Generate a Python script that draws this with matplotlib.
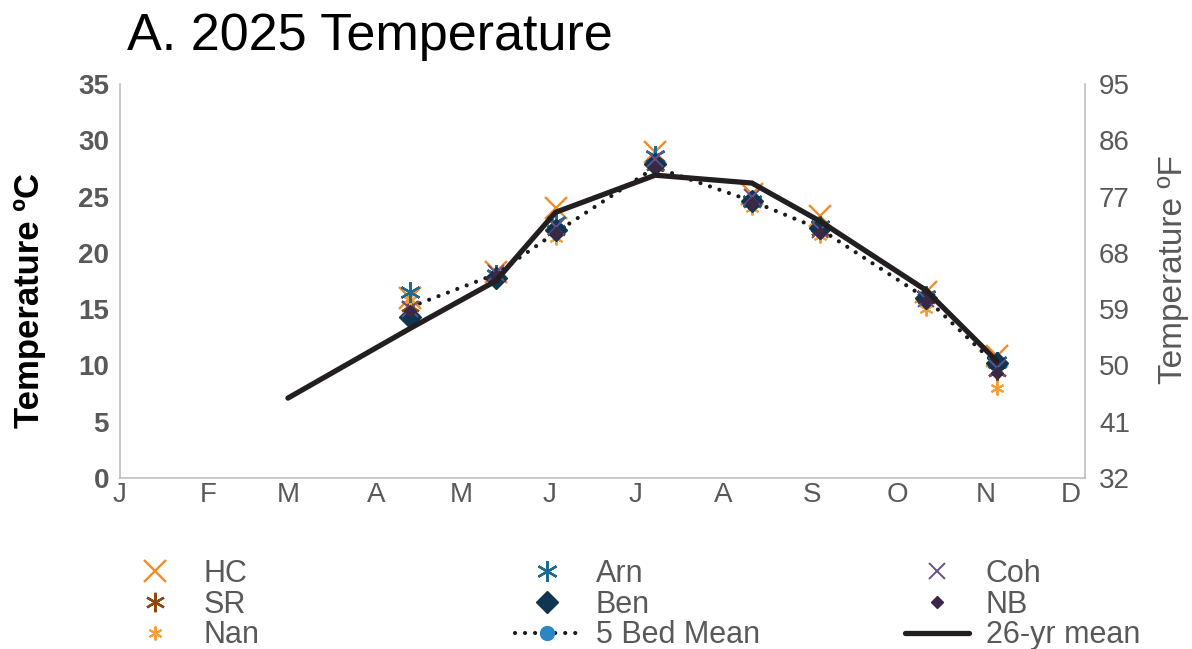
import matplotlib
matplotlib.use("Agg")
import matplotlib.pyplot as plt
from matplotlib.lines import Line2D

plt.rcParams['font.family'] = ['Liberation Sans', 'DejaVu Sans']

# Day of year (Jan 1 = 0)
sample_days = [102, 132, 153, 188, 222, 246, 283, 308]
HC  = [16.0, 18.3, 24.0, 29.0, 25.2, 23.3, 16.5, 10.8]
SR  = [15.3, 18.0, 22.0, 27.8, 24.5, 22.0, 16.0, 9.5]
Nan = [15.8, 18.0, 21.3, 28.0, 24.0, 21.5, 15.0, 8.0]
Arn = [16.5, 18.0, 22.7, 28.6, 24.6, 22.4, 16.2, 10.3]
Ben = [14.3, 17.8, 22.0, 27.9, 24.6, 22.2, 16.0, 10.2]
Coh = [15.0, 18.2, 22.3, 28.3, 25.0, 22.0, 15.9, 9.8]
NB  = [14.8, 17.9, 21.8, 27.6, 24.4, 21.8, 15.7, 9.3]
bed_mean = [15.2, 18.1, 21.8, 27.6, 24.6, 22.1, 16.0, 10.0]

mean_days = [59, 102, 132, 153, 188, 222, 246, 283, 308]
mean26 = [7.1, 13.3, 17.5, 23.6, 26.9, 26.2, 22.8, 16.7, 10.4]

month_days = [0, 31, 59, 90, 120, 151, 181, 212, 243, 273, 304, 334]
month_labels = ['J', 'F', 'M', 'A', 'M', 'J', 'J', 'A', 'S', 'O', 'N', 'D']
c_ticks = [0, 5, 10, 15, 20, 25, 30, 35]
f_labels = ['32', '41', '50', '59', '68', '77', '86', '95']

gray = '#595959'
star = (6, 2, 0)
dotted = (0, (0.01, 2.4))

W, H = 1192, 649
fig = plt.figure(figsize=(W/100, H/100), dpi=100)
ax = fig.add_axes([120/W, 1 - 478/H, (1085-120)/W, (478-84)/H])

ax.plot(sample_days, bed_mean, linestyle=dotted, color='#1a1a1a', lw=3,
        marker='o', markersize=6, markerfacecolor='#2B87C3', markeredgecolor='#2B87C3',
        zorder=2, dash_capstyle='round')

series = [
    ('HC', HC, 'x', '#F28C28', 16, 1.7),
    ('SR', SR, star, '#8B4A0F', 14, 1.7),
    ('Nan', Nan, star, '#F7A035', 10, 1.5),
    ('Arn', Arn, star, '#1F6A8F', 15, 1.7),
    ('Ben', Ben, 'D', '#0F3550', 11, 1.0),
    ('Coh', Coh, 'x', '#6A4F8A', 12, 1.4),
    ('NB', NB, 'D', '#3A2846', 6, 1.0),
]
handles = {}
for name, vals, m, col, ms, mew in series:
    h, = ax.plot(sample_days, vals, linestyle='none', marker=m, markersize=ms,
                 color=col, markeredgewidth=mew, zorder=3)
    handles[name] = h

h26, = ax.plot(mean_days, mean26, color='#231f20', lw=3.8, solid_capstyle='round',
               zorder=4)
handles['5 Bed Mean'] = Line2D([], [], linestyle=dotted, color='#1a1a1a', lw=3,
                               marker='o', markersize=10, markerfacecolor='#2B87C3',
                               markeredgecolor='#2B87C3', dash_capstyle='round')
handles['26-yr mean'] = h26

ax.set_xlim(0, 339)
ax.set_ylim(0, 35)
ax.set_xticks(month_days)
ax.set_xticklabels(month_labels, fontsize=20, color=gray)
ax.set_yticks(c_ticks)
ax.set_yticklabels([str(t) for t in c_ticks], fontsize=20, color=gray, fontweight='bold')
ax.tick_params(axis='x', length=0, pad=3)
ax.tick_params(axis='y', length=0, pad=8)
ax.set_ylabel('Temperature ºC', fontsize=25, fontweight='bold', color='black')
ax.yaxis.set_label_coords((46-120)/965, (478-300)/394)

for s in ['left', 'bottom', 'right']:
    ax.spines[s].set_color('#bfbfbf')
    ax.spines[s].set_linewidth(1.2)
ax.spines['top'].set_visible(False)

ax2 = ax.twinx()
ax2.set_ylim(0, 35)
ax2.set_yticks(c_ticks)
ax2.set_yticklabels(f_labels, fontsize=20, color=gray)
ax2.tick_params(axis='y', length=0, pad=10)
ax2.set_ylabel('Temperature ºF', fontsize=24, color=gray)
ax2.yaxis.set_label_coords((1158-120)/965, (478-270)/394)
for s in ['left', 'bottom', 'right', 'top']:
    ax2.spines[s].set_visible(False)

fig.text(127/W, 1 - 50/H, 'A. 2025 Temperature', fontsize=37.5, va='baseline', ha='left')

columns = [
    (['HC', 'SR', 'Nan'], 123),
    (['Arn', 'Ben', '5 Bed Mean'], 515),
    (['Coh', 'NB', '26-yr mean'], 905),
]
fs = 22
for names, x0 in columns:
    leg = fig.legend([handles[k] for k in names], names, loc='upper left',
                     bbox_to_anchor=(x0/W, 1 - 559/H), frameon=False, fontsize=fs,
                     handlelength=2.1, labelspacing=0.02, handletextpad=0.55,
                     borderaxespad=0, borderpad=0)
    for t in leg.get_texts():
        t.set_color(gray)

fig.savefig('out.png', dpi=100)
